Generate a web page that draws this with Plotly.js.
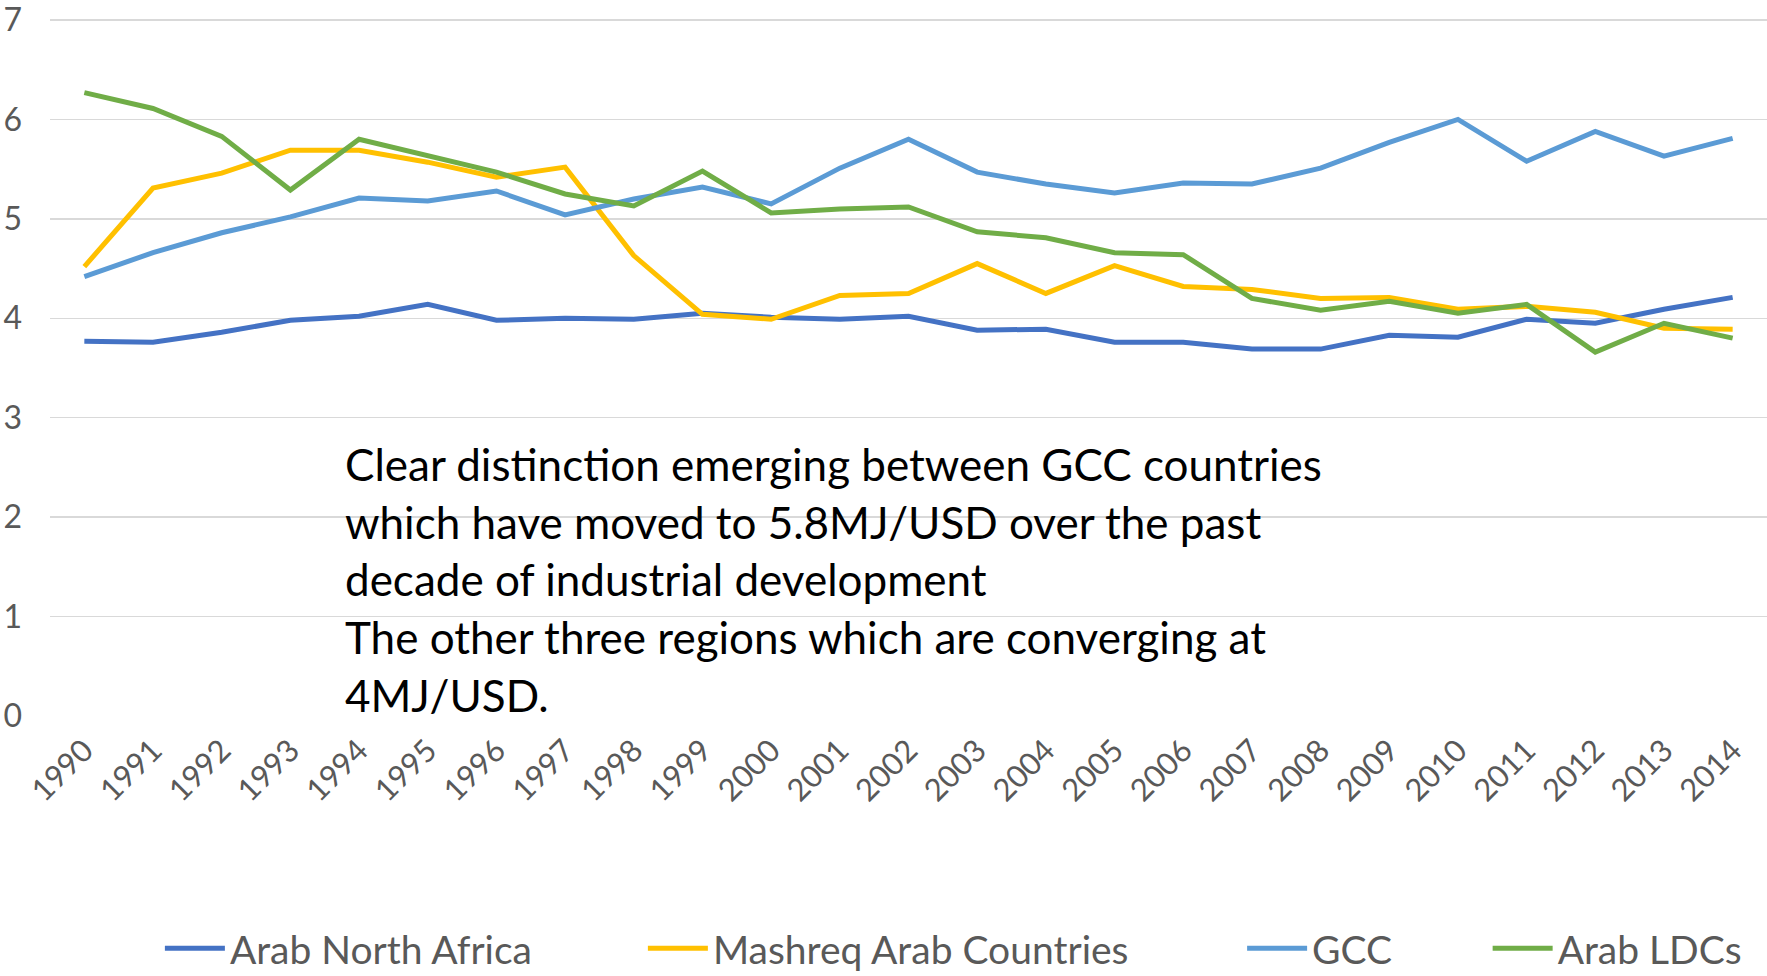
<!DOCTYPE html>
<html>
<head>
<meta charset="utf-8">
<script src="https://cdn.plot.ly/plotly-3.0.1.min.js"></script>
<style>html,body{margin:0;padding:0;background:#fff;}#chart{width:1767px;height:976px;}</style>
</head>
<body>
<div id="chart"></div>
<script>
const years = ["1990","1991","1992","1993","1994","1995","1996","1997","1998","1999","2000","2001","2002","2003","2004","2005","2006","2007","2008","2009","2010","2011","2012","2013","2014"];
const arabNorthAfrica = [3.77,3.76,3.86,3.98,4.02,4.14,3.98,4.00,3.99,4.05,4.01,3.99,4.02,3.88,3.89,3.76,3.76,3.69,3.69,3.83,3.81,3.99,3.95,4.09,4.21];
const mashreq = [4.52,5.31,5.46,5.69,5.69,5.57,5.42,5.52,4.63,4.04,3.99,4.23,4.25,4.55,4.25,4.53,4.32,4.29,4.20,4.21,4.09,4.12,4.06,3.90,3.89];
const gcc = [4.42,4.66,4.86,5.02,5.21,5.18,5.28,5.04,5.20,5.32,5.15,5.51,5.80,5.47,5.35,5.26,5.36,5.35,5.51,5.77,6.00,5.58,5.88,5.63,5.81];
const arabLDCs = [6.27,6.11,5.83,5.29,5.80,5.63,5.47,5.25,5.13,5.48,5.06,5.10,5.12,4.87,4.81,4.66,4.64,4.20,4.08,4.17,4.05,4.14,3.66,3.95,3.80];
const seriesNames = ["Arab North Africa","Mashreq Arab Countries","GCC","Arab LDCs"];
const noteLines = [
  "Clear distinction emerging between GCC countries",
  "which have moved to 5.8MJ/USD over the past",
  "decade of industrial development",
  "The other three regions which are converging at",
  "4MJ/USD."
];

const colors = ["#4472C4","#FFC000","#5B9BD5","#70AD47"];
const seriesData = [arabNorthAfrica, mashreq, gcc, arabLDCs];
const legendIds = ["legend","legend2","legend3","legend4"];
const legendX = [0.064, 0.3453, 0.6943, 0.8373];

const traces = seriesData.map((vals, i) => ({
  type: "scatter",
  mode: "lines",
  x: years,
  y: vals,
  name: seriesNames[i],
  legend: legendIds[i],
  line: {color: colors[i], width: 5},
  hoverinfo: "x+y+name"
}));

const fam = "Lato, 'Noto Sans', sans-serif";
const legendFont = {family: fam, size: 39, color: "#595959"};
const layout = {
  width: 1767,
  height: 976,
  paper_bgcolor: "#ffffff",
  plot_bgcolor: "#ffffff",
  margin: {l: 50, r: 0, t: 18, b: 260, autoexpand: false},
  showlegend: true,
  xaxis: {
    type: "category",
    range: [-0.5, 24.5],
    tickangle: -45,
    showgrid: false,
    zeroline: false,
    showline: false,
    ticks: "",
    tickfont: {family: fam, size: 31, color: "#595959"},
    ticklabelstandoff: 9,
    fixedrange: true,
    automargin: false
  },
  yaxis: {
    range: [0, 7.02],
    tickmode: "linear",
    tick0: 0,
    dtick: 1,
    showgrid: true,
    gridcolor: "#D9D9D9",
    gridwidth: 1.5,
    zeroline: false,
    showline: false,
    ticks: "",
    tickfont: {family: fam, size: 32, color: "#595959"},
    ticklabelstandoff: 27,
    ticklabeloverflow: "allow",
    fixedrange: true,
    automargin: false
  },
  annotations: noteLines.map((t, i) => ({
    text: t,
    xref: "paper",
    yref: "paper",
    x: 0.1707,
    y: 0.361 - i * 0.0826,
    xanchor: "left",
    yanchor: "middle",
    showarrow: false,
    align: "left",
    font: {family: fam, size: 44, color: "#000000"}
  }))
};
legendIds.forEach((id, i) => {
  layout[id] = {
    orientation: "h",
    x: legendX[i],
    xanchor: "left",
    y: -0.333,
    yanchor: "middle",
    font: legendFont,
    bgcolor: "rgba(0,0,0,0)",
    itemwidth: 60,
    tracegroupgap: 0
  };
});

Plotly.newPlot("chart", traces, layout, {displayModeBar: false, staticPlot: true});
</script>
</body>
</html>
